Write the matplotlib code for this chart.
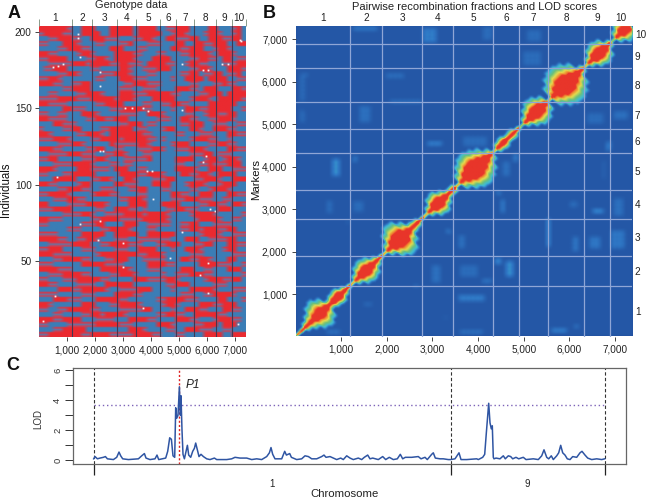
import numpy as np
import matplotlib as mpl
mpl.use('Agg')
import matplotlib.pyplot as plt
from matplotlib.colors import LinearSegmentedColormap, to_rgb

plt.rcParams['font.family'] = ['Liberation Sans', 'DejaVu Sans']

# chromosome boundaries (marker index)
bounds = [1195, 1900, 2770, 3460, 4330, 4890, 5530, 6315, 6885]
n_markers = 7370
chrom_names = ['1', '2', '3', '4', '5', '6', '7', '8', '9', '10']
marker_ticks = [1000, 2000, 3000, 4000, 5000, 6000, 7000]
marker_ticklabels = ['1,000', '2,000', '3,000', '4,000', '5,000', '6,000', '7,000']

geno_rows = [
    "rrrrrrmbbrrrbbbrrrrrbrrrrbbmmrrrbbbbrrbbbmrb",
    "mrrrrmmbbrrrrbbrrrrrbrrrrrbbmrrmbbbmrrmbbmrb",
    "bbmmrrrmmbbrrrmmmbbbmmrrmbbrrmmmrrbbrrrmmrrb",
    "mmbbbrrrmbbbmmbbbmmrbbbmmmbbbrrbbrrmmrrrbbrr",
    "bbbbmmrrrmmbbbbrrrbbbmmbbbbbrrmmrrrbbmrrmbbb",
    "rrmmbbbbmrrmbbbbrrrrmmbbbmmbbbmmrrrrmbrrrmbb",
    "mmrrrrbbbbmmrrmbrrrrmbbbrrrrbbbbmmrrmmbrrbmm",
    "bbmmmmmrrrmrrrrmmrrmmmbrrrrmmbbmrrmmbbbmmmrr",
    "bmmrrrbbbbbmmbbbbrrmbbmmmrrrbbbbmmrrmbbbrrrm",
    "bbbbmmrrmbbbbmmmrrrmbbbmmbbbbbmmrrbmmrrbmmrb",
    "mmrrmbbbbbbbmmbbbrrrmmmbbbbbmbbrrrrbrrrrbbmm",
    "rrrmmbbmmrrbbbbbbbmmrrrmmmbbbbbbmmbbbmmrmmbb",
    "bbbbbmmrrrrbbbbbbmmmbbmmmbbbbrrrmmbrrrbbbrrm",
    "bbmmbbbbmmrrrmbbbrrrmmmrrrrrmmbbbbmmrrrbrrrr",
    "mmmmrrrrmmmrrrrrmrrrmbbbrrrrrbbbmrrrmbrrrrrm",
    "rrmmmmbbbbbbmmrrrrbbbbmmbbmmrrmmbbbbrrrrrrbb",
    "bbbbbrrmmmbbbbbmmmrrrrmmbbbbmbbrrrmmrrrrrbbm",
    "mmbbmmbbbrrrmbbbbmmmmbbrrrmbbbbmmbbmrrmmrrbb",
    "rrmmmmbbbbmmrrmmrrrbbbbbbmmmbbrrmmbbmmrrrmbb",
    "bbbrrmmmbbbbbbbbbmmrrrbmmbbbbbmmrrrbbmmmbbmm",
    "mbbbbmmrrbbbbmmrrrrrbmmbbbmrrbbbrrmbbrrrmmbb",
    "rrmbbbbbmmrrrmbrrrrrrrmmbbbbbmmbbbmmmbbbrrmm",
    "mmmrrrmbbbbmmrrrrmrrrrrmmbmbbbbbmrrrmmbbmbbb",
    "bbbbmmmrrmbbbbbrmmmmmrrmbbbbmrrrbbbbmmrrmmbb",
    "rrrmmbbbbbmmrrbbmmbbbmmmrrmbbmmmrrrmbbbbrrmm",
    "bbmmmmrrrmmmbbmmrrmbbbmmbbbbbbbbmmmrrbmmmbbb",
    "mmrrbbbbbmmmrrmbbbmmmmmrbbbbbrrrrbbmrrbmrrmb",
    "bbbmmmmrrrrmbbbmmbmmbbbbbbbbbmmbbbmmrmmmrrrb",
    "rrrmbbbbrrrmmmmbrrrbbmmbbbbbbrrrrmbbrrrbbmmm",
    "mmbbbmmrrrrrbbbbbrrrrmmrrrmbbbrrmmrrmbrrrrbb",
    "bbbrrrrrbbbmmrrmbbrrmbbbmmmrrbbbbmmrrrmbbrrr",
    "rrmmbbbbmrrbbbbbrrmmmbbbrrrrbbbmrrrmbbmrrrbb",
    "bbbbmmrrrmmbbmmmbbbmmrrbbbmmbbbbmmbbmrrrmbbb",
    "mmrrrrmbbbbmrrrmmbbbbmmbbbbbrrmmbbrrrbbbrrmm",
    "bbbmmmrrmmbbbbbbbmmrrrmbbbbbmmmrrrmmmbbmmbbb",
    "rrbbbbmmmmrrrrmbbbbrrrrbbbrrrrbbbbmmrrmmbrrm",
    "mmmrrrrbbbbbmmbbrrrmmbmbbbbmmrrmmmbbbbrrrbbb",
    "bbbbbmmmmrrmbbmmmmrrrrmrrrrmbbbbmrrrrmbbbbbm",
    "rrmmmbbbbbbmmrrrrmmmmmrrrrrmbbbbbmrrrrmbbmmb",
    "mmbbbbbbbmmmrrbbbbrrrbbmmmmmbbmmrrbbbmmmmbbb",
    "bbbbbbmmmbbbbmmrrrrmbbbmmbbbbbmmrrmrrrmmrrbb",
    "mmmmbbbbbrrrrrbbrrrrrbbrrrrrrbbbbbmrrrmbbmmm",
    "rrrrmmbbmmrrmbbbmmmbbmmmmmmmbbbrrrbbmmmmrrbb",
    "bbmmmmmrrrrbbmmrrrrmmmbbbmmrrrbbbmmrrbbbrrmm",
    "mmrrrbbbbmmmbbbbmmmbbrrrrbbbmbbrrrmbbbbmrrbb",
    "rrrmmmmbbbbbmrrrrrrrrmmrrrmbbbbbmmmbbbbbbmmm",
    "bbbmmrrrrmmbbbmmrrrbbbmmmmmbbbrrmmrrmbbbrrbb",
    "mmmbbbbbbrrrrrmmmmbbbbbrrrrmmbbbbbrrrrmmmbbm",
    "rrrrmmmbbbbbbrrrrrrmbbbmmmbbbbrrrbbmmbbbrrrb",
    "bbmmmrrrrmmbbbbmmrrrmbbbbbmbbmmmrrrmmbbbbbbm",
    "mmbbbmmmrrrrrmmbbbbbrrrmmmmrrmbbbbbmrrrmmrrb",
    "rrmmbbbbmmmmbbrrrrrrbbbbbbbmmrrrbbbbbmmmbbbb",
    "bbbbrrrmmrrrrrmbbmmmmrrrbbbbmbbbrrrrrmbbbmmm",
    "mmmmbbbbbmmmbbbbrrrrmmbbbbbbbbmmmbbmmrrrrmbb",
    "bbbrrrmmmbbbrrrrrmmbbbbbbmmrrrrmmmbbbbrrbbbm",
    "rrmbbbbbbrrrbbbmmrrrrmbbbbmrrmbbbbrrrmmrrrbb",
    "mmbbmmrrrrrmmbbbbmmmmmrrbbbbmbbrrrmmbbbrrmmb",
    "bbbmmbbbbmmrrmrrrrmbbbbbbmmrrmmbbrrrrrmmbbbb",
    "rrrmmrrrrbbbmmmmbbbrrrrmmbbbbrrrmmbbbmrrrmmb",
    "mmbbbbmmmmmmrrrrrmmmbbbbbrrrmbbbbmmrrrbrrrbb",
    "bbbmmrrrrrbbbbbbbbbrrrmbbbbmmbbrrrmmmbbmmbbb",
    "mmrrrrrrrmmrrrrmmmmmrrrrmmbbbmmbbbbrrrrbbrrr",
]

# unscored genotypes (marker, individual)
speck_x = [520, 700, 880, 1410, 1410, 1470, 2180, 2180, 3070, 3310, 3720, 3900, 5090, 5090, 5850, 6030,
           5850, 5970, 6510, 6750, 7160, 7220, 3840, 4020, 2180, 2300, 1470, 2180, 2120, 3010, 6030, 6090,
           6270, 580, 3720, 7100, 5090, 150, 4670, 4080, 3010, 5740, 6030, 640]
speck_y = [177, 178, 179, 199, 196, 184, 174, 165, 150, 150, 150, 148, 149, 179, 175, 175,
           115, 119, 179, 179, 195, 194, 109, 109, 122, 122, 74, 76, 64, 46, 49, 84,
           83, 27, 19, 9, 69, 11, 52, 91, 62, 41, 29, 105]

# Panel B: half-width of the block around the diagonal, every 100 markers
band_outer = [25, 35, 90, 160, 250, 280, 220, 100, 130, 150, 95, 45, 22, 105, 190, 225, 190, 105, 45, 18,
              130, 260, 330, 320, 220, 105, 85, 35, 18, 105, 200, 225, 155, 80, 85, 18, 175, 270, 330, 350,
              305, 245, 130, 18, 95, 115, 80, 95, 45, 14, 105, 200, 260, 245, 175, 22, 225, 320, 365, 375,
              330, 245, 85, 18, 105, 200, 235, 200, 80, 14, 130, 215, 225, 35]
band_core = [14, 14, 16, 25, 60, 85, 40, 16, 45, 60, 25, 14, 12, 16, 60, 80, 50, 20, 14, 12,
             16, 85, 125, 120, 45, 20, 20, 14, 12, 16, 70, 85, 40, 16, 22, 12, 16, 80, 130, 145,
             110, 60, 20, 12, 25, 35, 16, 16, 14, 10, 16, 60, 90, 85, 35, 12, 25, 90, 140, 145,
             100, 45, 16, 12, 16, 70, 85, 60, 16, 10, 16, 65, 72, 14]

# off-diagonal linkage patches: x0, x1, y0, y1, strength
patch_x0 = [1250, 2780, 90, 90, 1985, 2057, 1400, 90, 2870, 800, 1250, 4090, 5050, 4970, 6370, 6940, 3650, 6800, 6720, 4530,
            4750, 2975, 2600, 3300, 680, 1510, 1250, 680, 1120, 6500, 6940, 5490, 3550, 6430, 6910, 6060, 4610, 4350, 3590, 4070,
            3545, 3590, 5600, 6105, 4500, 4400, 6000, 3260]
patch_x1 = [1770, 3085, 240, 200, 2340, 2757, 1620, 200, 3210, 960, 1330, 4310, 5340, 5340, 6720, 7240, 4180, 6910, 6760, 4680,
            4860, 3150, 2710, 3410, 960, 1660, 1470, 810, 1160, 6720, 7160, 5540, 3700, 6650, 7200, 6170, 4750, 4500, 3980, 4290,
            4135, 4090, 5930, 6170, 4550, 4490, 6150, 3300]
patch_y0 = [7170, 6910, 6090, 5530, 6040, 5480, 5020, 5020, 4480, 3760, 4090, 6940, 6930, 6350, 5000, 5100, 4440, 4350, 3690, 3760,
            4110, 1260, 1140, 2430, 60, 720, 2930, 2900, 2640, 2910, 2820, 2110, 2040, 2040, 2040, 2000, 1410, 1710, 1410, 1260,
            820, 60, 110, 200, 2900, 3330, 3030, 430]
patch_y1 = [7260, 7220, 6160, 6150, 6160, 5530, 5400, 5300, 4540, 4160, 4230, 7260, 7170, 6670, 5220, 5280, 4680, 4560, 4090, 4090,
            4280, 1640, 1200, 2500, 120, 780, 3140, 3170, 2700, 2980, 3220, 2750, 2350, 2320, 2470, 2320, 1740, 1830, 1640, 1320,
            940, 120, 180, 260, 3210, 3390, 3140, 490]
patch_v = [.2, .2, .2, .13, .15, .2, .15, .13, .25, .25, .25, .13, .13, .13, .13, .15, .13, .22, .15, .15,
           .2, .15, .2, .25, .2, .18, .13, .13, .2, .3, .15, .3, .15, .18, .18, .18, .25, .25, .13, .22,
           .22, .2, .25, .25, .25, .25, .13, .15]

# Panel C: LOD profile, position along the map
lod_pos_chr1 = [0, 1.3, 3.7, 6.3, 9.7, 11.7, 13.7, 19.7, 23, 25.3, 27, 29, 34.7, 44.7, 48, 50.7, 52.3, 56.3, 61.3, 63.3, 65,
                72, 74, 76, 77.7, 79.3, 81, 82, 83, 84.3, 85.7, 86.7, 87.3, 88.3, 89.3, 90.7, 92, 93.7, 95, 97,
                99, 100.7, 102, 103.7, 105.3, 107.3, 109.7, 113, 116.3, 120.7, 123, 128, 133, 138, 141.3, 146.3,
                153, 158, 163, 168, 173, 175.7, 177.3, 179, 181.3, 188, 191, 192.7, 194.3, 196, 197.7, 203,
                208, 211.3, 214.7, 218, 223, 228, 230.3, 232.3, 236.3]
lod_val_chr1 = [.1, .25, .1, .15, .2, .25, .1, .05, .2, .55, .3, .1, .05, .1, .3, .45, .15, .05, .1, .35, .05,
                .15, .6, 1.5, 1.4, .3, .2, 3.5, 2.8, 3, 4.9, 3, 4.3, 2, .4, .1, .5, 1, .35, .2,
                .6, .8, 1.15, .7, .25, .4, .25, .1, .05, .15, .05, .05, .05, .1, .2, .15,
                .15, .05, .1, .05, .25, .5, .85, .4, .1, .1, .6, .35, .4, .45, .2, .05,
                .1, .3, .25, .1, .1, .25, .35, .2, .25]
lod_pos_chr2 = [243, 247, 249.6, 253, 256.3, 259.6, 264.6, 268, 270.6, 274, 276.3, 279, 284.6, 289, 292, 295.6, 299.6, 303.6,
                306.6, 309, 311.6, 318, 324.6, 327.3, 331.3, 333.6, 338, 339.6, 341.6, 346.3, 349.6, 354.6, 357, 361.3, 365.3,
                367.3, 373, 383, 384.6, 389, 391, 392.6, 395, 396.3, 397.6, 398.6, 399.6, 400.3, 402.3, 406.3, 409.6, 411.6,
                414.6, 417, 419, 422.3, 425, 429.6, 432.3, 439.6, 444.6, 448, 450.3, 453, 455, 457.6, 459.6, 463, 465, 467,
                469, 471.3, 473.6, 476.3, 479, 483, 486.3, 488.3, 491.3, 494, 498, 503, 508, 511]
lod_val_chr2 = [.05, .15, .05, .3, .15, .05, .15, .05, .2, .35, .1, .15, .05, .25, .05, .2, .05, .1,
                .4, .1, .2, .2, .25, .1, .2, .05, .4, .5, .15, .1, .1, .05, .05, .1, .5,
                .05, .05, .1, .05, .2, .4, 1.8, 3.8, 2.5, 2.1, 2.3, .2, .1, .15, .1, .3, .1,
                .3, .25, .1, .2, .1, .2, .05, .1, .05, .3, .7, .2, .1, .3, .05, .3, .5, 1,
                .5, .35, .1, .05, .25, .2, .5, .6, .35, .15, .05, .1, .05, .1]
lod_pos = lod_pos_chr1 + lod_pos_chr2
lod_val = lod_val_chr1 + lod_val_chr2
lod_threshold = 3.69
qtl_pos = 85.7
chrom_edges_c = [0, 357, 511]


def px_axes(fig, left, top, right, bottom):
    W, H = fig.get_size_inches() * fig.dpi
    return fig.add_axes([left / W, 1 - bottom / H, (right - left) / W, (bottom - top) / H])


def blur(arr, size):
    # box blur, the reference is a soft jpeg
    kernel = np.ones(size) / size
    arr = np.apply_along_axis(lambda r: np.convolve(r, kernel, mode='same'), 0, arr)
    return np.apply_along_axis(lambda r: np.convolve(r, kernel, mode='same'), 1, arr)


fig = plt.figure(figsize=(6.47, 5.04), dpi=100)
mids = np.diff([0] + bounds + [n_markers]) / 2 + np.array([0] + bounds)

# Panel A ----------------------------------------------------------------
ax_a = px_axes(fig, 38.7, 26, 245.7, 336.7)
# every row is drawn as 3 thin lines so the mixed cells show as stripes
sub_colors = {'b': ['#3b7db6'] * 3, 'r': ['#ea2a30'] * 3, 'm': ['#d23a4c', '#6f6f9c', '#c2465c']}
img = np.array([[[to_rgb(sub_colors[c][k]) for c in row.ljust(44, 'b')[:44]] for k in range(3)]
                for row in geno_rows]).reshape(-1, 44, 3)
ax_a.imshow(img, aspect='auto', interpolation='bilinear', extent=[0, n_markers, 0.5, 204])
ax_a.plot(speck_x, speck_y, ls='none', marker='s', ms=1.3, mew=0, color='#f4f0f4')
for b in bounds:
    ax_a.axvline(b, color='#45354f', lw=.8)
ax_a.set_xlim(0, n_markers)
ax_a.set_ylim(0.5, 204)
ax_a.set_xticks(marker_ticks, marker_ticklabels)
ax_a.set_yticks([50, 100, 150, 200])
ax_a.tick_params(labelsize=7.2, length=3, width=.7, pad=3, color='#444444', labelcolor='#222222')
ax_a.tick_params(axis='y', pad=2)
for spine in ax_a.spines.values():
    spine.set_visible(False)
top_a = ax_a.secondary_xaxis('top')
top_a.set_xticks(mids, chrom_names)
top_a.set_xticks([0] + bounds + [n_markers], minor=True)
top_a.tick_params(axis='x', which='major', length=0, labelsize=7.2, pad=2, labelcolor='#222222')
top_a.tick_params(axis='x', which='minor', length=5, width=.7, color='#8a9a8a')
top_a.spines['top'].set_visible(False)
fig.text(131 / 647, 1 - 5 / 504, 'Genotype data', ha='center', va='center', fontsize=7.9, color='#222222')
fig.text(6 / 647, 1 - 190 / 504, 'Individuals', ha='center', va='center', rotation=90, fontsize=8.3, color='#111111')

# Panel B ----------------------------------------------------------------
ax_b = px_axes(fig, 295.5, 26, 632, 336.5)
step = 25
cx = np.arange(step / 2, n_markers, step)
cy = np.arange(step / 2, 7310, step)
xx, yy = np.meshgrid(cx, cy)
Z = np.full(xx.shape, .03)
# patches look like fine grids of streaks, not flat boxes
streak = ((xx // 50) % 2 == 0) | ((yy // 50) % 2 == 0)
for x0, x1, y0, y1, v in zip(patch_x0, patch_x1, patch_y0, patch_y1, patch_v):
    inside = (xx >= x0) & (xx <= x1) & (yy >= y0) & (yy <= y1)
    Z[inside & streak] = v
Z = blur(Z, 5)
outer = np.array(band_outer, dtype=float)
core = np.array(band_core, dtype=float)
idx = np.clip(((xx + yy) / 2 / 100).astype(int), 0, len(outer) - 1)
dist = np.abs(xx - yy) / 2
level = 1 - (dist - core[idx]) / (outer[idx] - core[idx])
level = np.where(dist < core[idx], 1.0, np.where(level > 0, .18 + .62 * level, 0))
Z = blur(np.maximum(Z, level), 3)
cmap_b = LinearSegmentedColormap.from_list('rf', [(0, '#22509f'), (.15, '#2f78c6'), (.3, '#3fbdd6'), (.45, '#6bc07a'),
                                                 (.6, '#e4dd4e'), (.72, '#f08a30'), (.85, '#e8352a'), (1, '#e8352a')])
ax_b.imshow(Z, origin='lower', cmap=cmap_b, vmin=0, vmax=1, aspect='auto', interpolation='bilinear',
            extent=[0, n_markers, 0, 7310])
for b in bounds:
    ax_b.axvline(b, color='#8fa6d6', lw=.9)
    ax_b.axhline(b, color='#8fa6d6', lw=.9)
ax_b.set_xlim(0, n_markers)
ax_b.set_ylim(0, 7310)
ax_b.set_xticks(marker_ticks, marker_ticklabels)
ax_b.set_yticks(marker_ticks, marker_ticklabels)
ax_b.tick_params(labelsize=7.2, length=3, width=.7, pad=3, color='#444444', labelcolor='#222222')
for spine in ax_b.spines.values():
    spine.set_visible(False)
top_b = ax_b.secondary_xaxis('top')
top_b.set_xticks(mids, chrom_names)
top_b.tick_params(axis='x', length=0, labelsize=7.2, pad=2, labelcolor='#222222')
top_b.spines['top'].set_visible(False)
right_b = ax_b.secondary_yaxis('right')
right_b.set_yticks(mids, chrom_names)
right_b.tick_params(axis='y', length=0, labelsize=7.2, pad=2, labelcolor='#222222')
right_b.spines['right'].set_visible(False)
fig.text(474 / 647, 1 - 7 / 504, 'Pairwise recombination fractions and LOD scores', ha='center', va='center',
         fontsize=8, color='#222222')
fig.text(256 / 647, 1 - 179 / 504, 'Markers', ha='center', va='center', rotation=90, fontsize=8.2, color='#111111')

# Panel C ----------------------------------------------------------------
ax_c = px_axes(fig, 73.3, 368.3, 625.7, 464)
for edge in chrom_edges_c:
    ax_c.axvline(edge, color='#333333', lw=.8, ls=(0, (3, 2)))
ax_c.plot([0, 511], [lod_threshold, lod_threshold], color='#7d63b8', lw=1, ls=(0, (1, 2)))
ax_c.axvline(qtl_pos, color='#e02020', lw=1, ls=(0, (1.5, 1.5)))
ax_c.plot(lod_pos, lod_val, color='#2f55a3', lw=1.1)
ax_c.set_xlim(-20.4, 532)
ax_c.set_ylim(-.245, 6.13)
ax_c.set_xticks(chrom_edges_c, [])
ax_c.set_yticks([0, 1, 2, 3, 4, 5, 6], ['0', '', '2', '', '4', '', '6'])
ax_c.tick_params(axis='x', length=8, width=.9, color='#222222')
ax_c.tick_params(axis='y', length=6, width=.7, color='#333333', labelsize=6.8, pad=2, labelcolor='#333333')
for t in ax_c.get_yticklabels():
    t.set_rotation(90)
    t.set_va('center')
for spine in ax_c.spines.values():
    spine.set_color('#666666')
    spine.set_linewidth(.9)
ax_c.text(92, 5.05, 'P1', style='italic', fontsize=8.6, ha='left', va='center', color='#222222')
fig.text(271.7 / 647, 1 - 484 / 504, '1', ha='center', va='center', fontsize=7, color='#222222')
fig.text(527 / 647, 1 - 484 / 504, '9', ha='center', va='center', fontsize=7, color='#222222')
fig.text(345 / 647, 1 - 494 / 504, 'Chromosome', ha='center', va='center', fontsize=8.2, color='#222222')
fig.text(38 / 647, 1 - 419 / 504, 'LOD', ha='center', va='center', rotation=90, fontsize=7, color='#333333')

# panel letters
for letter, x, y in [('A', 14, 14), ('B', 269, 14), ('C', 13, 365)]:
    fig.text(x / 647, 1 - y / 504, letter, ha='center', va='center', fontsize=13, fontweight='bold', color='#111111')

fig.savefig('out.png', dpi=100)
